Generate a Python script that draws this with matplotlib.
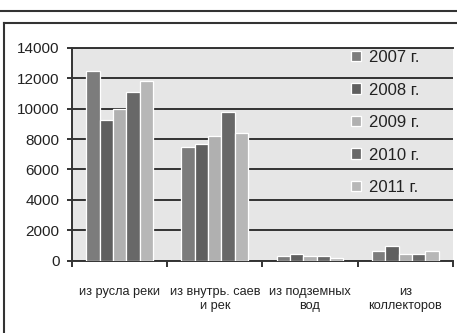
import numpy as np
import matplotlib
matplotlib.use("Agg")
import matplotlib.pyplot as plt
from matplotlib.lines import Line2D

plt.rcParams['font.family'] = ['Liberation Sans', 'DejaVu Sans']

# water intake by source, per year
categories = ["из русла реки", "из внутрь. саев\nи рек", "из подземных\nвод", "из\nколлекторов"]
years = ["2007 г.", "2008 г.", "2009 г.", "2010 г.", "2011 г."]
v2007 = [12450, 7450, 300, 650]
v2008 = [9250, 7700, 400, 950]
v2009 = [10000, 8200, 300, 450]
v2010 = [11100, 9750, 300, 450]
v2011 = [11850, 8400, 150, 600]
series = [v2007, v2008, v2009, v2010, v2011]
colors = ["#7c7c7c", "#5f5f5f", "#b0b0b0", "#686868", "#b7b7b7"]

fig = plt.figure(figsize=(4.57, 3.33), dpi=100)
ax = fig.add_axes([0.1575, 0.2177, 0.8335, 0.6384])
ax.set_facecolor("#e6e6e6")

x = np.arange(len(categories))
w = 0.14
for i, (vals, c, lab) in enumerate(zip(series, colors, years)):
    ax.bar(x + (i - 2) * w, vals, w, color=c, edgecolor="white",
           linewidth=0.9, label=lab, zorder=3)

ax.set_xlim(-0.5, len(categories) - 0.5)
ax.set_ylim(0, 14000)
ax.set_yticks(np.arange(0, 14001, 2000))
ax.yaxis.grid(True, color="#333333", linewidth=1.4, zorder=1)
ax.set_axisbelow(True)

# category boundaries as major ticks, labels on minor ticks
ax.set_xticks(np.arange(-0.5, len(categories), 1.0))
ax.set_xticklabels([])
ax.set_xticks(x, minor=True)
ax.set_xticklabels(categories, minor=True, fontsize=9.2, color="#222222",
                   linespacing=1.3, va="top")
ax.tick_params(axis="x", which="major", length=4, width=1.4, color="#333333")
ax.tick_params(axis="x", which="minor", length=0, pad=18)
ax.tick_params(axis="y", length=3.5, width=1.4, color="#333333", pad=5.5,
               labelsize=11, labelcolor="#222222")

for s in ["left", "bottom", "top"]:
    ax.spines[s].set_color("#333333")
    ax.spines[s].set_linewidth(1.4)
ax.spines["right"].set_visible(False)

leg = ax.legend(loc="upper left", bbox_to_anchor=(0.732, 0.99), frameon=False,
                fontsize=12, borderpad=0, borderaxespad=0, labelspacing=1.05,
                handlelength=0.6, handleheight=0.6, handletextpad=0.5)
for t in leg.get_texts():
    t.set_color("#222222")

# page frame around the chart
fig.add_artist(Line2D([0, 1], [0.967, 0.967], color="#333333", linewidth=1.5))
fig.add_artist(Line2D([0.0098, 1.0], [0.932, 0.932], color="#333333", linewidth=1.5))
fig.add_artist(Line2D([0.0098, 0.0098], [0.0, 0.932], color="#333333", linewidth=1.5))

fig.savefig("out.png", dpi=100)
